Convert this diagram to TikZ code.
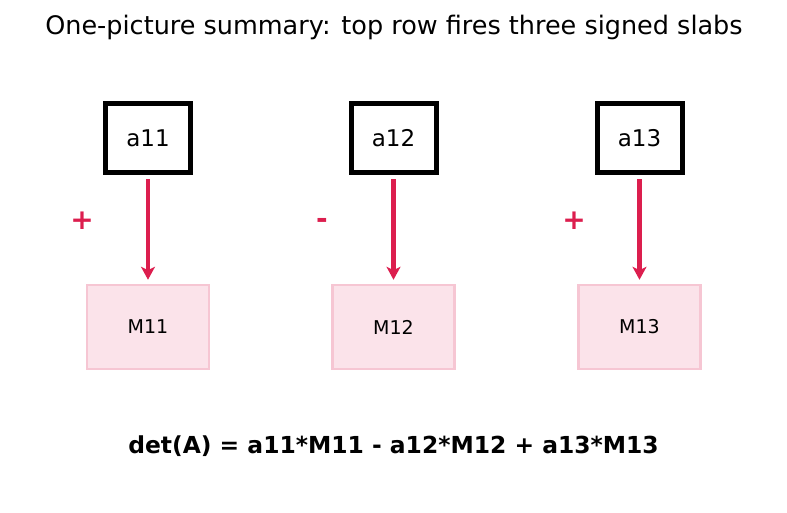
\documentclass[tikz,border=0pt]{standalone}
\usepackage{fontspec}
\setmainfont{DejaVu Sans}
\usepackage{xcolor}
\usetikzlibrary{arrows.meta, positioning}

\definecolor{crim}{HTML}{DC1E4E}
\definecolor{slabfill}{HTML}{FBE3EA}
\definecolor{slabedge}{HTML}{F6C6D3}

\begin{document}
\begin{tikzpicture}[
    x=1pt, y=-1pt,
    topbox/.style={draw, line width=5pt, minimum width=85pt, minimum height=69pt, font=\fontsize{23}{27}\selectfont},
    slab/.style={draw=slabedge, line width=2.5pt, fill=slabfill, minimum width=122pt, minimum height=84pt, font=\fontsize{19}{23}\selectfont},
    arr/.style={-{Stealth[length=13pt, width=14pt, inset=3.5pt]}, line width=4.5pt, crim},
    sgn/.style={text=crim, font=\fontsize{28}{32}\selectfont\bfseries},
]
\useasboundingbox (0,0) rectangle (787,512);

\node[font=\fontsize{25.5}{30}\selectfont] (title) at (394, 27) {One-picture summary: top row fires three signed slabs};

\node[topbox] (a11) at (148, 138) {a11};
\node[topbox] (a12) at (393.5, 138) {a12};
\node[topbox] (a13) at (639.5, 138) {a13};

\node[slab] (M11) at (148, 327) {M11};
\node[slab] (M12) at (393.5, 327) {M12};
\node[slab] (M13) at (639.5, 327) {M13};

\node[sgn] (s1) at (82, 221) {+};
\node[sgn] (s2) at (322, 223) {-};
\node[sgn] (s3) at (574, 221) {+};

\draw[arr] ([yshift=-4pt]a11.south) -- ([yshift=4pt]M11.north);
\draw[arr] ([yshift=-4pt]a12.south) -- ([yshift=4pt]M12.north);
\draw[arr] ([yshift=-4pt]a13.south) -- ([yshift=4pt]M13.north);

\node[font=\fontsize{23.4}{27}\selectfont\bfseries] (det) at (393.5, 446) {det(A) = a11*M11 - a12*M12 + a13*M13};

\end{tikzpicture}
\end{document}
